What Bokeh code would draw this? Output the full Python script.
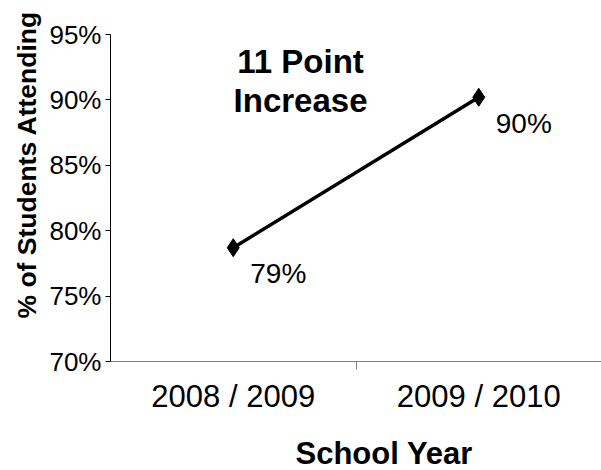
from bokeh.plotting import figure
from bokeh.models import (Range1d, FixedTicker, CustomJSTickFormatter,
                          PrintfTickFormatter, Label, Title, ColumnDataSource)
from bokeh.embed import file_html
from bokeh.resources import INLINE
from bokeh.core.properties import value

# --- data -------------------------------------------------------------
school_years = ["2008 / 2009", "2009 / 2010"]
attendance_pct = [78.7, 90.2]
y_ticks = [70, 75, 80, 85, 90, 95]
headline_lines = ["11 Point", "Increase"]
x_title = "School Year"
y_title = "% of Students Attending"

FONT = "Liberation Sans"

# each school year sits in the middle of its own unit-wide slot
x_pos = [i + 0.5 for i in range(len(school_years))]
value_labels = [f"{round(v)}%" for v in attendance_pct]
src = ColumnDataSource(dict(x=x_pos, y=attendance_pct, label=value_labels))

p = figure(width=601, height=470,
           x_range=Range1d(0, len(school_years)),
           y_range=Range1d(y_ticks[0], y_ticks[-1]),
           output_backend="svg", toolbar_location=None,
           min_border_left=110, min_border_right=0,
           min_border_top=34, min_border_bottom=106)

p.outline_line_color = None
p.xgrid.visible = False
p.ygrid.visible = False
p.background_fill_color = "white"
p.border_fill_color = "white"

# y axis: percent ticks every 5 points
yax = p.yaxis[0]
yax.ticker = FixedTicker(ticks=y_ticks, minor_ticks=[])
yax.formatter = PrintfTickFormatter(format="%d%%")
yax.axis_line_color = "black"
yax.axis_line_width = 1
yax.major_tick_line_color = "black"
yax.major_tick_in = 0
yax.major_tick_out = 5
yax.minor_tick_line_color = None
yax.major_label_standoff = 4
yax.major_label_text_font = FONT
yax.major_label_text_font_size = "26px"
yax.major_label_text_color = "black"

# x axis: labels at slot centres, a single divider tick between slots
xax = p.xaxis[0]
xax.ticker = FixedTicker(ticks=x_pos,
                         minor_ticks=[i for i in range(1, len(school_years))])
xax.formatter = CustomJSTickFormatter(args=dict(names=school_years),
                                      code="return names[Math.floor(tick)];")
xax.axis_line_color = "#808080"
xax.major_tick_line_color = None
xax.major_tick_in = 0
xax.major_tick_out = 0
xax.minor_tick_line_color = "#808080"
xax.minor_tick_in = 0
xax.minor_tick_out = 8
xax.major_label_standoff = 9
xax.major_label_text_font = FONT
xax.major_label_text_font_size = "31px"
xax.major_label_text_color = "black"
# a blank axis label acts as a spacer above the school-year title
xax.axis_label = " "
xax.axis_label_standoff = 13
xax.axis_label_text_font_size = "1px"

# axis titles, set in their own side panels
p.add_layout(Title(text=y_title, align="left", offset=43, standoff=10,
                   text_font=FONT, text_font_size="26.5px",
                   text_font_style="bold", text_color="black"), "left")
p.add_layout(Title(text=x_title, align="left", offset=185, standoff=0,
                   text_font=FONT, text_font_size="31px",
                   text_font_style="bold", text_color="black"), "below")

# attendance line with diamond markers
p.line("x", "y", source=src, line_color="black", line_width=3.5)
p.scatter("x", "y", source=src, marker="diamond", size=18,
          fill_color="black", line_color="black")
p.text("x", "y", text="label", source=src, x_offset=17, y_offset=26,
       text_font=value(FONT), text_font_size="28px", text_color="black",
       text_align="left", text_baseline="alphabetic")

# headline
for txt, yy in zip(headline_lines, [92.9, 89.95]):
    p.add_layout(Label(x=0.774, y=yy, text=txt, text_font=FONT,
                       text_font_size="33px", text_font_style="bold",
                       text_color="black", text_align="center",
                       text_baseline="alphabetic"))

open("out.html", "w").write(file_html(p, INLINE))
